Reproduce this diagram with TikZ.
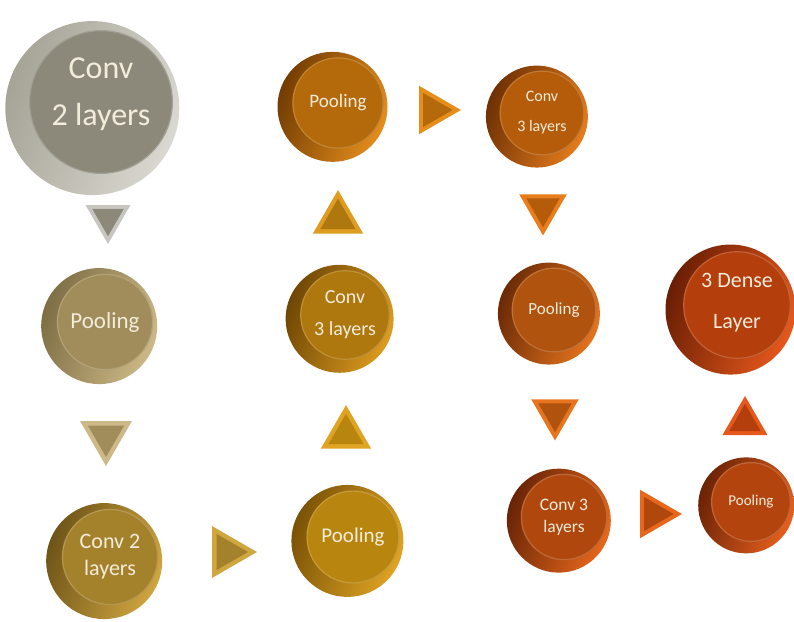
\documentclass[tikz,border=0pt]{standalone}
\usepackage{fontspec}
\setmainfont{Carlito}
\usetikzlibrary{shapes.geometric}

% button colours: rim (light side), rim (shadow side), face
\definecolor{rimA}{HTML}{DAD8D0}\definecolor{rimAdark}{HTML}{A6A397}\definecolor{faceA}{HTML}{8C897B}
\definecolor{rimB}{HTML}{CDB987}\definecolor{rimBdark}{HTML}{7E6E44}\definecolor{faceB}{HTML}{A08D5B}
\definecolor{rimC}{HTML}{D0A640}\definecolor{rimCdark}{HTML}{6E5418}\definecolor{faceC}{HTML}{A4822C}
\definecolor{rimD}{HTML}{E0A424}\definecolor{rimDdark}{HTML}{7A5206}\definecolor{faceD}{HTML}{B8860E}
\definecolor{rimE}{HTML}{DE9C20}\definecolor{rimEdark}{HTML}{6E4604}\definecolor{faceE}{HTML}{AE780E}
\definecolor{rimF}{HTML}{E58E1C}\definecolor{rimFdark}{HTML}{723C02}\definecolor{faceF}{HTML}{B46A0A}
\definecolor{rimG}{HTML}{E77D1C}\definecolor{rimGdark}{HTML}{6E3004}\definecolor{faceG}{HTML}{B45C0A}
\definecolor{rimH}{HTML}{E7741E}\definecolor{rimHdark}{HTML}{6A2A06}\definecolor{faceH}{HTML}{B0530E}
\definecolor{rimI}{HTML}{E7681C}\definecolor{rimIdark}{HTML}{682406}\definecolor{faceI}{HTML}{B0480E}
\definecolor{rimJ}{HTML}{E7601E}\definecolor{rimJdark}{HTML}{6A2206}\definecolor{faceJ}{HTML}{B4440E}
\definecolor{rimK}{HTML}{E7581C}\definecolor{rimKdark}{HTML}{6A1E04}\definecolor{faceK}{HTML}{B43E0C}
\definecolor{label}{HTML}{F3ECDA}

% knob: name, face x, face y, rim radius, colour key, font size, leading, text shift, text
\newcommand\knob[9]{%
  \shade[left color=rim#5dark, right color=rim#5, shading angle=70]
    (#2-0.1*#4, #3+0.07*#4) circle (#4);
  \node[circle, inner sep=0pt, minimum size=1.64*#4, fill=face#5,
        draw=face#5!82!white, line width=1.2pt] (#1) at (#2,#3) {};
  \node[text=label, align=center, font=\fontsize{#6}{#7}\selectfont,
        yshift=#8] at (#1.center) {#9};
}
% arrow triangle: name, x, y, size, rotation, outer colour, inner colour
\newcommand\tri[7]{%
  \node[regular polygon, regular polygon sides=3, shape border rotate=#5,
        minimum size=#4, inner sep=0pt, fill=#6]
        (#1) at (#2,#3) {};
  \node[regular polygon, regular polygon sides=3, shape border rotate=#5,
        minimum size=0.7*#4, inner sep=0pt, fill=#7] at (#1.center) {};
}

\begin{document}
\begin{tikzpicture}[x=1pt,y=-1pt]
\useasboundingbox (0,0) rectangle (794,621);

% column 1
\knob{convA}{101}{102}{87}{A}{32}{47}{8pt}{Conv\\2 layers}
\tri{t1}{108}{218}{52}{180}{rimA!80!gray}{faceA}
\knob{poolB}{105}{322}{58}{B}{23}{23}{0pt}{Pooling}
\tri{t2}{106}{436}{60}{180}{rimB}{faceB}
\knob{convC}{110}{557}{58}{C}{22}{27}{0pt}{Conv 2\\layers}
\tri{t3}{227}{552}{60}{-90}{rimC}{faceC}

% column 2
\knob{poolD}{353}{537}{56}{D}{21}{22}{0pt}{Pooling}
\tri{t4}{346}{434}{58}{0}{rimD}{faceD}
\knob{convE}{345}{315}{54}{E}{20}{32}{0pt}{Conv\\3 layers}
\tri{t5}{338}{219}{58}{0}{rimE}{faceE}
\knob{poolF}{338}{103}{55}{F}{19}{21}{0pt}{Pooling}
\tri{t6}{433}{110}{56}{-90}{rimF}{faceF}

% column 3
\knob{convG}{542}{113}{51}{G}{16}{30}{0pt}{Conv\\3 layers}
\tri{t7}{543}{208}{55}{180}{rimG}{faceG}
\knob{poolH}{554}{310}{51}{H}{17}{19}{0pt}{Pooling}
\tri{t8}{555}{413}{55}{180}{rimH}{faceH}
\knob{convI}{564}{517}{52}{I}{17.5}{22}{0pt}{Conv 3\\layers}
\tri{t9}{654}{514}{56}{-90}{rimI}{faceI}

% column 4
\knob{poolJ}{751}{502}{48}{J}{15}{18}{0pt}{Pooling}
\tri{t10}{745}{422}{52}{0}{rimK}{faceK}
\knob{denseK}{737}{305}{65}{K}{22}{41}{2pt}{3 Dense\\Layer}
\end{tikzpicture}
\end{document}
